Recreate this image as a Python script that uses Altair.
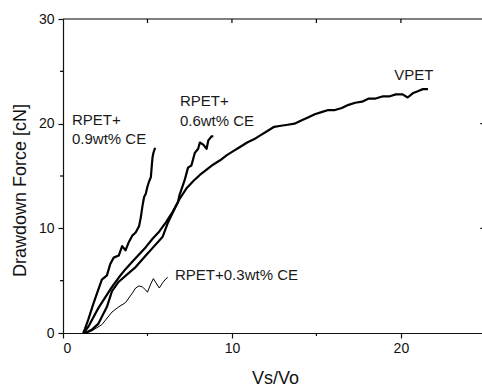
import altair as alt
import pandas as pd

# ---- data ----
vpet_x = [1.2, 1.5, 1.8, 2.1, 2.5, 2.9, 3.3, 3.7, 4.1, 4.5, 4.9, 5.3, 5.7, 6.1, 6.5, 6.9, 7.3, 7.7,
          8.1, 8.5, 8.9, 9.3, 9.7, 10.1, 10.5, 10.9, 11.3, 11.7, 12.1, 12.5, 12.9, 13.3, 13.7, 14.1,
          14.5, 14.9, 15.3, 15.7, 16.1, 16.5, 16.9, 17.3, 17.7, 18.1, 18.5, 18.9, 19.3, 19.7, 20.1,
          20.4, 20.7, 21.0, 21.3, 21.6]
vpet_y = [0.0, 0.6, 1.5, 2.4, 3.4, 4.4, 5.3, 6.1, 6.8, 7.5, 8.2, 9.0, 9.7, 10.6, 11.6, 12.8, 13.8, 14.5,
          15.1, 15.6, 16.1, 16.5, 17.0, 17.4, 17.8, 18.2, 18.5, 18.9, 19.3, 19.7, 19.8, 19.9, 20.0, 20.3,
          20.6, 20.9, 21.1, 21.3, 21.3, 21.5, 21.8, 22.0, 22.1, 22.4, 22.4, 22.6, 22.6, 22.8, 22.8,
          22.5, 22.9, 23.1, 23.3, 23.3]

r06_x = [1.3, 1.7, 2.1, 2.6, 2.9, 3.3, 3.8, 4.3, 4.9, 5.4, 5.9, 6.2, 6.5, 6.8, 6.9, 7.2, 7.4, 7.6,
         7.8, 8.0, 8.1, 8.3, 8.5, 8.6, 8.8, 8.9]
r06_y = [0.0, 0.3, 0.9, 2.5, 4.0, 4.9, 5.6, 6.3, 7.4, 8.3, 9.2, 10.5, 11.5, 12.5, 13.2, 14.6, 15.8, 16.0,
         17.2, 17.6, 18.2, 18.0, 17.6, 18.4, 18.8, 18.8]

r09_x = [1.2, 1.3, 1.5, 1.8, 2.1, 2.3, 2.6, 2.8, 3.0, 3.3, 3.5, 3.7, 3.9, 4.1, 4.3, 4.5, 4.6, 4.7,
         4.8, 4.9, 5.0, 5.1, 5.2, 5.25, 5.3, 5.35, 5.45]
r09_y = [0.0, 0.4, 1.3, 2.8, 4.2, 5.1, 5.5, 6.6, 7.2, 7.4, 8.3, 7.9, 8.7, 9.3, 9.6, 10.2, 11.0, 12.1,
         13.0, 13.3, 14.0, 14.5, 14.9, 15.9, 16.8, 17.2, 17.7]

r03_x = [1.4, 1.7, 2.3, 2.9, 3.3, 3.7, 4.1, 4.3, 4.5, 4.7, 4.9, 5.0, 5.2, 5.35, 5.5, 5.7, 5.9, 6.1, 6.2]
r03_y = [0.0, 0.2, 0.8, 2.0, 2.5, 2.9, 3.8, 4.3, 4.5, 4.4, 4.1, 3.9, 4.7, 5.2, 4.8, 4.3, 4.8, 5.2, 5.3]

series_names = ["VPET", "RPET+0.6wt% CE", "RPET+0.9wt% CE", "RPET+0.3wt% CE"]
series_widths = [2.2, 2.2, 2.2, 1.0]

label_text = ["RPET+", "0.9wt% CE", "RPET+", "0.6wt% CE", "VPET", "RPET+0.3wt% CE"]
label_x = [0.53, 0.53, 6.92, 6.92, 19.6, 6.63]
label_y = [19.9, 18.1, 21.7, 19.8, 24.2, 5.07]

x_major = [0, 10, 20]
x_minor = [5, 15]
x_top_ticks = [5, 10, 15, 20]
y_major = [0, 10, 20, 30]
y_minor = [5, 15, 25]
y_right_major = [10, 20]
y_right_minor = [15, 25]
X_MAX = 25     # the frame's right edge sits just past the picture's edge
X_VIEW = 24.8  # what is visible inside 482 px
Y_MAX = 30
W, H = 419, 314
PX_X = X_VIEW / W   # data units per pixel
PX_Y = Y_MAX / H

rows = []
for name, w, xs_, ys_ in zip(series_names, series_widths, [vpet_x, r06_x, r09_x, r03_x],
                             [vpet_y, r06_y, r09_y, r03_y]):
    for i, (a, b) in enumerate(zip(xs_, ys_)):
        rows.append({"series": name, "x": a, "y": b, "i": i, "w": w})

# frame top edge and the minor / inward ticks, as short two-point segments
segs = [((0, Y_MAX), (X_MAX, Y_MAX))]
segs += [((v, Y_MAX), (v, Y_MAX - 4 * PX_Y)) for v in x_top_ticks]
segs += [((v, 0), (v, -3 * PX_Y)) for v in x_minor]
segs += [((0, v), (-3 * PX_X, v)) for v in y_minor]
segs += [((X_MAX, v), (X_MAX - 5 * PX_X, v)) for v in y_right_major]
segs += [((X_MAX, v), (X_MAX - 3 * PX_X, v)) for v in y_right_minor]
for k, (p0, p1) in enumerate(segs):
    for i, (a, b) in enumerate([p0, p1]):
        rows.append({"series": f"deco{k}", "x": a, "y": b, "i": i, "w": 1.2})

df = pd.DataFrame(rows)
labels = pd.DataFrame({"text": label_text, "x": label_x, "y": label_y})

FONT = "Liberation Sans"
INK = "#111"
xs = alt.Scale(domain=[0, X_VIEW], nice=False, zero=False)
ys = alt.Scale(domain=[0, Y_MAX], nice=False, zero=False)

x_axis = alt.Axis(
    orient="bottom", values=x_major, tickSize=5, labelPadding=3, grid=False,
    tickColor=INK, tickWidth=1.2, domainColor=INK, domainWidth=1.2,
    labelFont=FONT, labelFontSize=14, labelColor=INK,
    title="Vs/Vo", titleFont=FONT, titleFontSize=18, titleFontWeight="normal",
    titleColor=INK, titleX=212, titleY=50, titleBaseline="alphabetic")
y_axis = alt.Axis(
    orient="left", values=y_major, tickSize=5, labelPadding=4, grid=False,
    tickColor=INK, tickWidth=1.2, domainColor=INK, domainWidth=1.2,
    labelFont=FONT, labelFontSize=14, labelColor=INK,
    title="Drawdown Force [cN]", titleFont=FONT, titleFontSize=18,
    titleFontWeight="normal", titleColor=INK, titleAngle=270,
    titleX=-38, titleY=171, titleBaseline="alphabetic")

X = alt.X("x:Q", scale=xs, axis=x_axis)
Y = alt.Y("y:Q", scale=ys, axis=y_axis)

lines = alt.Chart(df).mark_line(color="black", strokeJoin="round").encode(
    x=X, y=Y,
    detail="series:N",
    order="i:Q",
    strokeWidth=alt.StrokeWidth("w:Q", scale=None, legend=None),
)

text = alt.Chart(labels).mark_text(align="left", baseline="alphabetic", font=FONT, fontSize=15,
                                   color="#1a1a1a").encode(x=X, y=Y, text="text:N")

chart = alt.layer(lines, text).properties(
    width=W, height=H,
    autosize=alt.AutoSizeParams(type="none"),
    padding={"left": 63, "top": 19, "right": 0, "bottom": 53},
    background="white",
).configure_view(stroke=None)

chart.save("out.html", embed_options={"renderer": "svg", "actions": False})
